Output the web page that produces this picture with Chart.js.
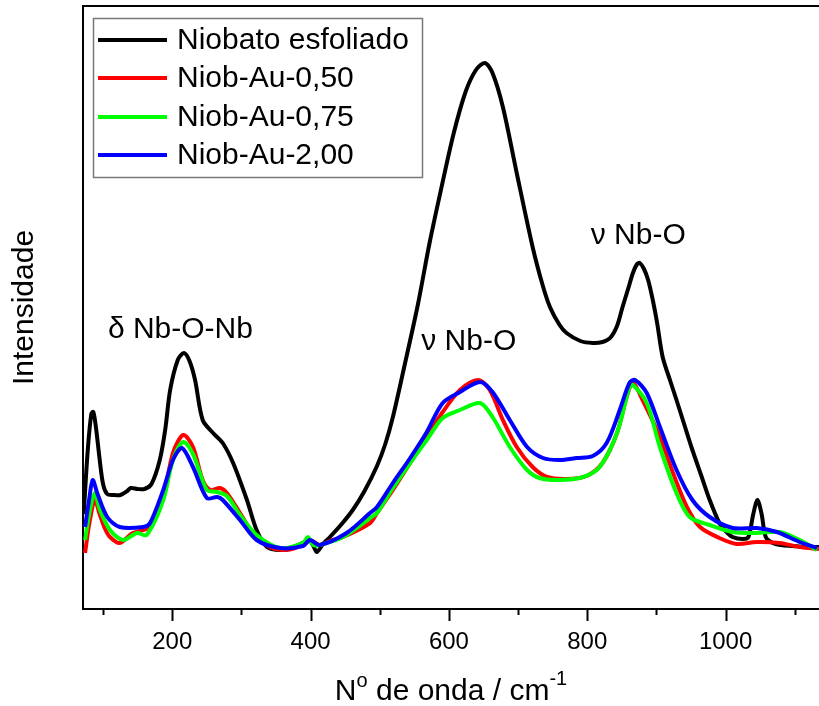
<!DOCTYPE html>
<html><head><meta charset="utf-8">
<script src="https://cdn.jsdelivr.net/npm/chart.js@4.4.1/dist/chart.umd.min.js"></script>
<style>html,body{margin:0;padding:0;background:#fff}#wrap{width:819px;height:706px;position:relative}</style>
</head><body><div id="wrap"><canvas id="c" width="819" height="706"></canvas></div>
<script>
const seriesLabels = ['Niobato esfoliado', 'Niob-Au-0,50', 'Niob-Au-0,75', 'Niob-Au-2,00'];
const seriesColors = ['#000000', '#ff0000', '#00ff00', '#0000ff'];

const xBlack = [72,78,83,86,90,95,100,106,115,125,135,140,150,160,170,182,190,197,208,217,225,233,244,259,273,288,308,322,337,356,375,389,399,404,409,418,428,445,461,478,496,508,519,536,555,572,590,607,624,639,652,663,678,698,721,735,746,760,770,790,808,822,833,843,851,859,866,872,876,882,888,895,901,909,920,929,940,952,965,977,991,1000,1010,1025,1033,1040,1046,1052,1058,1068,1080,1097,1115,1135];
const yBlack = [95,160,195,197,180,150,125,115,114,114,118,121,120,120,125,149,180,219,249,256,248,229,189,176,166,146,109,79,62,59,62,66,68,63,57,65,72,85,99,118,143,165,192,244,304,366,424,476,517,539,546,536,502,436,362,325,302,284,276,268,266,267,271,283,302,320,336,345,346,340,329,308,286,252,228,209,185,159,133,109,86,78,72,70,72,95,109,95,72,66,64,63,62,62];

const xRed = [74,80,88,95,103,110,124,143,168,187,201,216,230,244,255,269,279,298,317,341,366,389,399,413,428,447,486,496,519,544,568,591,616,642,659,678,698,721,742,770,799,822,843,857,866,880,905,924,944,963,991,1016,1045,1078,1107,1135];
const yRed = [56,85,109,95,80,72,66,76,82,112,156,174,162,129,119,121,116,96,76,62,59,64,69,64,68,72,86,96,119,146,172,197,219,229,219,189,162,142,132,130,133,146,176,212,226,209,172,136,102,82,71,65,67,66,62,60];

const xGreen = [74,80,88,95,110,129,149,163,187,201,216,230,250,265,279,298,322,356,389,396,404,413,447,486,496,519,544,568,591,616,645,663,688,713,731,760,794,818,843,861,866,886,905,929,948,977,1010,1045,1078,1107,1132];
const yGreen = [69,95,116,100,79,69,76,74,109,149,167,155,119,117,113,94,74,61,66,72,64,64,72,91,96,121,146,169,191,199,206,192,162,139,131,129,132,142,176,222,224,206,162,116,92,84,77,76,77,69,59];

const xBlue = [74,80,85,92,106,124,158,168,187,201,214,230,250,265,273,298,322,356,389,399,413,452,486,496,519,544,568,591,616,645,663,688,713,736,760,785,808,828,847,861,869,886,905,929,952,977,1010,1045,1074,1107,1132];
const yBlue = [82,110,129,115,92,82,82,86,119,149,161,142,111,112,109,89,69,61,63,69,64,76,96,102,126,151,177,206,217,227,217,189,162,151,149,151,153,166,199,226,229,216,182,139,109,92,81,81,77,67,61];

const xMin = 71, xMax = 1135, yMin = 0, yMax = 603;
const majorTicks = [200, 400, 600, 800, 1000];

const annotations = [
  {text: 'δ Nb-O-Nb', x: 107, y: 279},
  {text: 'ν Nb-O', x: 560, y: 267},
  {text: 'ν Nb-O', x: 805, y: 373}
];

const FONT = "'Liberation Sans', Arial, Helvetica, sans-serif";
const toPts = (xs, ys) => xs.map((x, i) => ({x: x, y: ys[i]}));
const allX = [xBlack, xRed, xGreen, xBlue];
const allY = [yBlack, yRed, yGreen, yBlue];
const drawOrder = [3, 2, 1, 0];

const datasets = seriesLabels.map((lab, i) => ({
  label: lab,
  data: toPts(allX[i], allY[i]),
  borderColor: seriesColors[i],
  backgroundColor: seriesColors[i],
  borderWidth: 4,
  pointRadius: 0,
  tension: 0.3,
  fill: false,
  order: drawOrder[i]
}));

const extrasPlugin = {
  id: 'extras',
  afterDraw(chart) {
    const ctx = chart.ctx;
    const xs = chart.scales.x, ys = chart.scales.y;
    const ca = chart.chartArea;
    ctx.save();
    ctx.strokeStyle = '#000'; ctx.lineWidth = 2;
    ctx.beginPath(); ctx.moveTo(ca.left - 1, ca.top); ctx.lineTo(ca.right, ca.top); ctx.stroke();
    xs.ticks.forEach(t => {
      const px = Math.round(xs.getPixelForValue(t.value)) + 0.5;
      const len = majorTicks.includes(t.value) ? 12 : 6;
      ctx.beginPath(); ctx.moveTo(px, ca.bottom); ctx.lineTo(px, ca.bottom + len); ctx.stroke();
    });
    ctx.fillStyle = '#000';
    ctx.font = '30px ' + FONT;
    ctx.textBaseline = 'middle'; ctx.textAlign = 'left';
    annotations.forEach(a => ctx.fillText(a.text, xs.getPixelForValue(a.x), ys.getPixelForValue(a.y)));
    const big = '30px ' + FONT, small = '20px ' + FONT;
    const parts = [['N', big, 0], ['o', small, -13], [' de onda / cm', big, 0], ['-1', small, -15]];
    let total = 0;
    parts.forEach(p => { ctx.font = p[1]; total += ctx.measureText(p[0]).width; });
    let cx = (ca.left + ca.right) / 2 - total / 2;
    const base = 700;
    ctx.textBaseline = 'alphabetic';
    parts.forEach(p => { ctx.font = p[1]; ctx.fillText(p[0], cx, base + p[2]); cx += ctx.measureText(p[0]).width; });
    const lx = 93, ly = 18, lw = 329, lh = 159;
    ctx.strokeStyle = '#777'; ctx.lineWidth = 1.5;
    ctx.strokeRect(lx + 0.5, ly + 0.5, lw, lh);
    const rows = [40, 78, 117, 155];
    ctx.font = '30px ' + FONT; ctx.textBaseline = 'middle';
    chart.data.datasets.forEach((d, i) => {
      ctx.strokeStyle = d.borderColor; ctx.lineWidth = 4;
      ctx.beginPath(); ctx.moveTo(98, rows[i]); ctx.lineTo(167, rows[i]); ctx.stroke();
      ctx.fillStyle = '#000';
      ctx.fillText(d.label, 177, rows[i] + 1);
    });
    ctx.restore();
  }
};

new Chart(document.getElementById('c'), {
  type: 'line',
  data: {datasets: datasets},
  options: {
    responsive: false,
    animation: false,
    devicePixelRatio: 1,
    layout: {padding: {top: 6, right: 0, left: 0, bottom: 0}},
    plugins: {legend: {display: false}, tooltip: {enabled: false}},
    scales: {
      x: {
        type: 'linear', min: xMin, max: xMax, position: 'bottom',
        grid: {display: false, drawTicks: false},
        border: {display: true, color: '#000', width: 2},
        ticks: {
          stepSize: 100, includeBounds: false, autoSkip: false, maxRotation: 0,
          padding: 19, color: '#000', font: {size: 24, family: FONT},
          callback: v => majorTicks.includes(v) ? String(v) : ''
        },
        afterFit: s => { s.height = 97; }
      },
      y: {
        min: yMin, max: yMax,
        grid: {display: false, drawTicks: false},
        border: {display: true, color: '#000', width: 2},
        ticks: {display: false},
        title: {display: true, text: 'Intensidade', color: '#000', font: {size: 30, family: FONT}, padding: {top: 7, bottom: 0}},
        afterFit: s => { s.width = 83; }
      }
    }
  },
  plugins: [extrasPlugin]
});
</script>
</body></html>
